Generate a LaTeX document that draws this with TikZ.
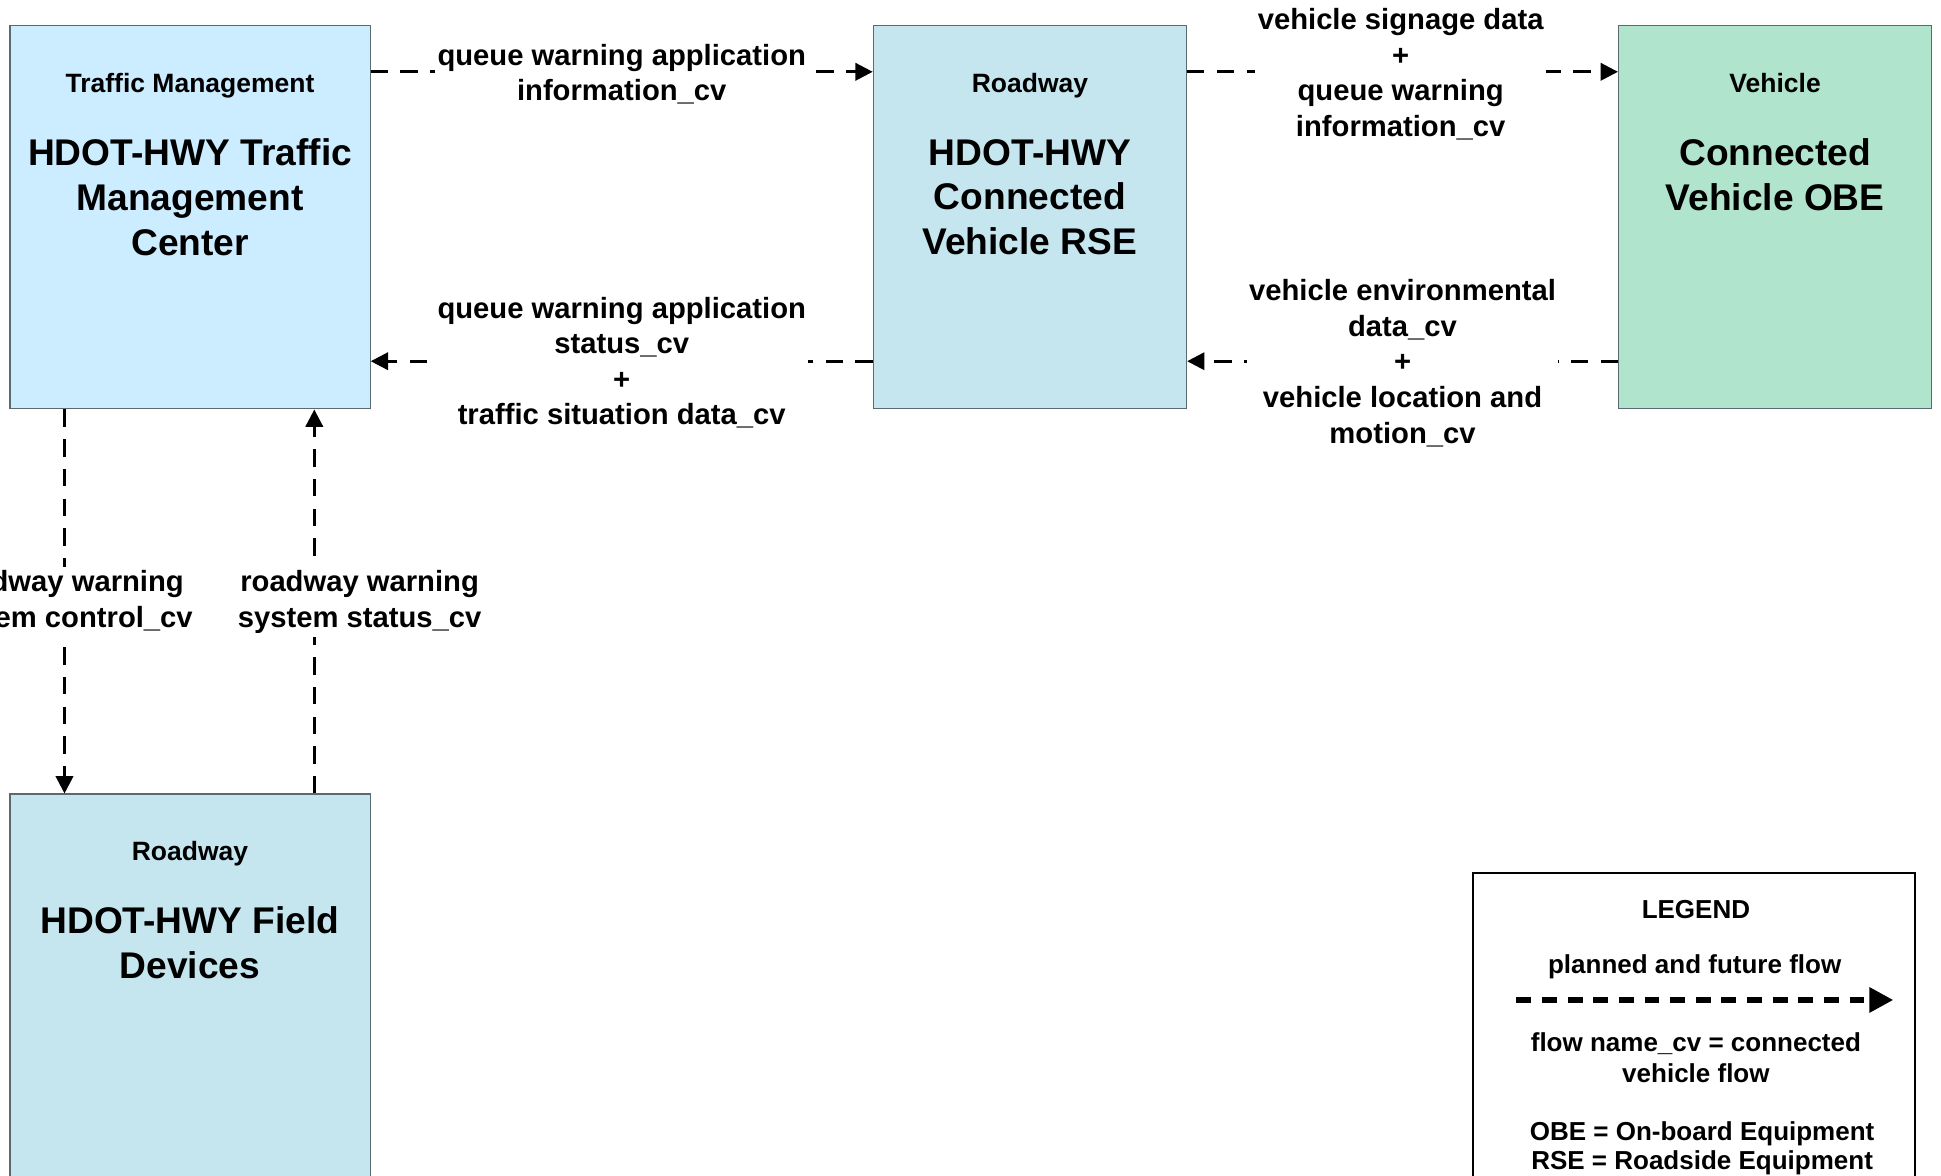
\documentclass[tikz,border=0pt]{standalone}
\usepackage{fontspec}
\setmainfont{Liberation Sans}
\usetikzlibrary{arrows.meta}
\definecolor{tmcfill}{HTML}{CCECFF}
\definecolor{rsefill}{HTML}{C5E6EF}
\definecolor{obefill}{HTML}{B0E4CC}
\definecolor{boxline}{HTML}{5A6A70}
\begin{document}
\begin{tikzpicture}[x=1pt,y=-1pt,
  sysbox/.style={draw=boxline, line width=1pt, inner sep=0pt, minimum height=310pt},
  widebox/.style={sysbox, minimum width=291pt},
  narrowbox/.style={sysbox, minimum width=253pt},
  hdr/.style={font=\bfseries\fontsize{21.4pt}{25pt}\selectfont, anchor=base, inner sep=0pt},
  ttl/.style={font=\bfseries\fontsize{30pt}{36.3pt}\selectfont, align=center, inner sep=0pt},
  lbl/.style={font=\bfseries\fontsize{23.6pt}{28.8pt}\selectfont, align=center, fill=white, inner xsep=2pt, inner ysep=3pt},
  flow/.style={line width=2.2pt, dash pattern=on 14pt off 10pt, -{Triangle[length=14pt,width=14pt]}},
  legtxt/.style={font=\bfseries\fontsize{21pt}{25pt}\selectfont, align=center, inner sep=0pt},
  legflow/.style={line width=5pt, dash pattern=on 12pt off 8.7pt, -{Triangle[length=19.4pt,width=19.4pt]}}
]
\useasboundingbox (0,0) rectangle (1568,950);
\clip (0,0) rectangle (1568,950);

% system boxes
\node[widebox, fill=tmcfill] (tmc) at (153.5,175.3) {};
\node[narrowbox, fill=rsefill] (rse) at (832,175.3) {};
\node[narrowbox, fill=obefill] (obe) at (1434,175.3) {};
\node[widebox, fill=rsefill] (fd) at (153.5,796.5) {};

% box texts
\node[hdr] (tmch) at (153.5,74.5) {Traffic Management};
\node[ttl] (tmct) at (153.5,159.3) {HDOT-HWY Traffic\\Management\\Center};
\node[hdr] (rseh) at (832,74.5) {Roadway};
\node[ttl] (rset) at (832,159.3) {HDOT-HWY\\Connected\\Vehicle RSE};
\node[hdr] (obeh) at (1434,74.5) {Vehicle};
\node[ttl] (obet) at (1434,141) {Connected\\Vehicle OBE};
\node[hdr] (fdh) at (153.5,695.5) {Roadway};
\node[ttl] (fdt) at (153.5,761.8) {HDOT-HWY Field\\Devices};

% flows
\draw[flow] ([yshift=-38.2pt]tmc.north east) -- node[lbl, yshift=-1.8pt] (l1) {queue warning application\\information\_cv} ([yshift=-38.2pt]rse.north west);
\draw[flow] ([yshift=39pt]rse.south west) -- node[lbl, yshift=-1.2pt] (l2) {queue warning application\\status\_cv\\+\\traffic situation data\_cv} ([yshift=39pt]tmc.south east);
\draw[flow] ([yshift=-38.2pt]rse.north east) -- node[lbl, yshift=-1.8pt, xshift=-1.5pt] (l3) {vehicle signage data\\+\\queue warning\\information\_cv} ([yshift=-38.2pt]obe.north west);
\draw[flow] ([yshift=39pt]obe.south west) -- node[lbl, yshift=-1.5pt] (l4) {vehicle environmental\\data\_cv\\+\\vehicle location and\\motion\_cv} ([yshift=39pt]rse.south east);
\draw[flow] ([xshift=44.6pt]tmc.south west) -- node[lbl, yshift=-0.5pt] (l5) {roadway warning\\system control\_cv} ([xshift=44.6pt]fd.north west);
\draw[flow] ([xshift=246.4pt]fd.north west) -- node[lbl, xshift=36.6pt, yshift=-0.5pt] (l6) {roadway warning\\system status\_cv} ([xshift=246.4pt]tmc.south west);

% legend
\node[draw=black, line width=1.8pt, inner sep=0pt, minimum width=357pt, minimum height=255pt] (legend) at (1368.5,832.5) {};
\node[legtxt, anchor=base] (legt) at (1370,741.8) {LEGEND};
\node[legtxt, anchor=base] (legp) at (1369,786.3) {planned and future flow};
\coordinate (la) at (1225,807.8);
\coordinate (lb) at (1529.5,807.8);
\draw[legflow] (la) -- (lb);
\node[legtxt, font=\bfseries\fontsize{21pt}{25.3pt}\selectfont] (legn) at (1370,854.2) {flow name\_cv = connected\\vehicle flow};
\node[legtxt, font=\bfseries\fontsize{21pt}{23.3pt}\selectfont] (lega) at (1375,927.3) {OBE = On-board Equipment\\RSE = Roadside Equipment};
\end{tikzpicture}
\end{document}
